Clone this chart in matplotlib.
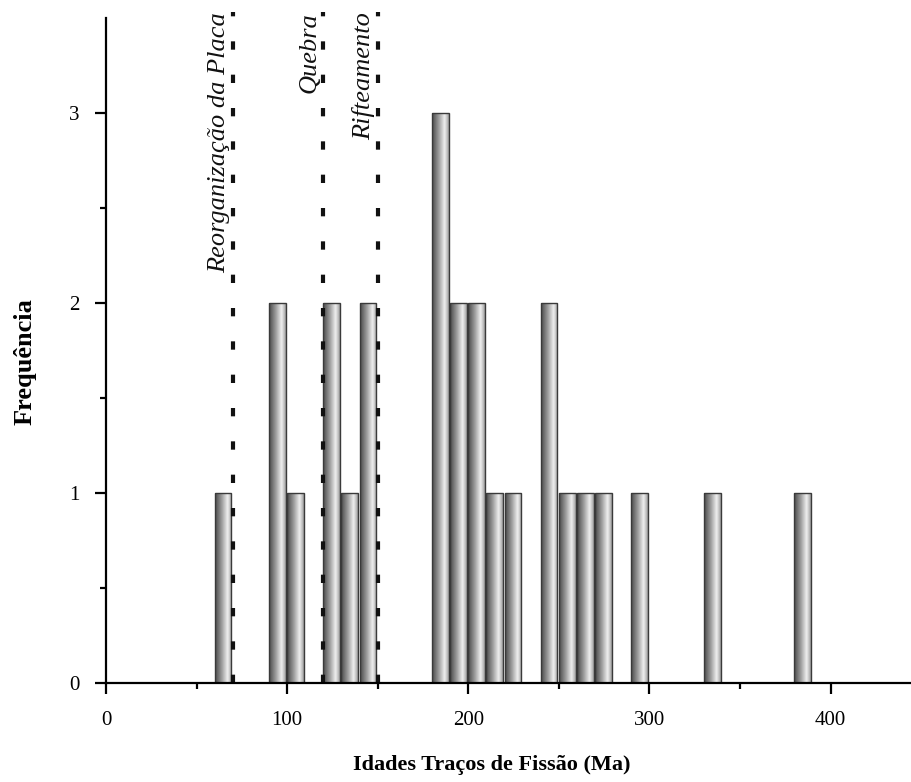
import numpy as np
import matplotlib
matplotlib.use("Agg")
import matplotlib.pyplot as plt
from matplotlib.colors import LinearSegmentedColormap

# histogram of fission-track ages, 10 Ma bins (left edges)
bin_left = [60, 90, 100, 120, 130, 140, 180, 190, 200, 210, 220, 240, 250, 260, 270, 290, 330, 380]
freq = [1, 2, 1, 2, 1, 2, 3, 2, 2, 1, 1, 2, 1, 1, 1, 1, 1, 1]

# tectonic events
event_age = [70, 120, 150]
event_name = ["Reorganização da Placa", "Quebra", "Rifteamento"]

plt.rcParams['font.family'] = ['Liberation Serif', 'DejaVu Serif']
plt.rcParams['lines.scale_dashes'] = False

fig = plt.figure(figsize=(9.12, 7.82), dpi=100)
ax = fig.add_axes([0.1162, 0.1266, 0.884, 0.8504])

bars = ax.bar(bin_left, freq, width=9.2, align='edge', facecolor='none',
              edgecolor='#3a3a3a', linewidth=1.0, zorder=3)

# grey cylinder-like shading inside each bar
cmap = LinearSegmentedColormap.from_list(
    'bar', [(0.0, '#4a4a4a'), (0.4, '#9c9c9c'), (0.75, '#f0f0f0'), (1.0, '#a0a0a0')])
grad = np.linspace(0, 1, 64).reshape(1, -1)
for b in bars:
    x0, w, h = b.get_x(), b.get_width(), b.get_height()
    im = ax.imshow(grad, extent=[x0, x0 + w, 0, h], aspect='auto', cmap=cmap,
                   interpolation='bilinear', zorder=2)
    im.set_clip_path(b)

# dotted event lines
for a in event_age:
    ax.vlines(a, 0, 3.53, colors='#111111', linewidth=3.0, linestyles=(0, (6, 18)),
              capstyle='butt', zorder=4, clip_on=False)
for a, name in zip(event_age, event_name):
    ax.text(a - 1.5, 3.53, name, rotation=90, ha='right', va='top',
            fontsize=19, style='italic', color='#111111')

ax.set_xlim(0, 445)
ax.set_ylim(0, 3.5)
ax.set_xticks([0, 100, 200, 300, 400])
ax.set_xticks([50, 150, 250, 350], minor=True)
ax.set_yticks([0, 1, 2, 3])
ax.set_yticks([0.5, 1.5, 2.5], minor=True)

for s in ['top', 'right']:
    ax.spines[s].set_visible(False)
for s in ['left', 'bottom']:
    ax.spines[s].set_linewidth(1.6)
    ax.spines[s].set_zorder(5)
ax.tick_params(which='major', direction='out', length=8, width=1.6, labelsize=15)
ax.tick_params(which='minor', direction='out', length=4, width=1.6)
ax.tick_params(axis='x', which='major', pad=12)
ax.tick_params(axis='y', which='major', pad=11)

ax.set_xlabel('Idades Traços de Fissão (Ma)', fontsize=16, fontweight='bold')
ax.set_ylabel('Frequência', fontsize=19, fontweight='bold')
ax.xaxis.set_label_coords(0.479, -0.123)
ax.xaxis.label.set_va('center')
ax.yaxis.set_label_coords(-0.1005, 0.483)
ax.yaxis.label.set_va('center')

fig.savefig('out.png', dpi=100)
